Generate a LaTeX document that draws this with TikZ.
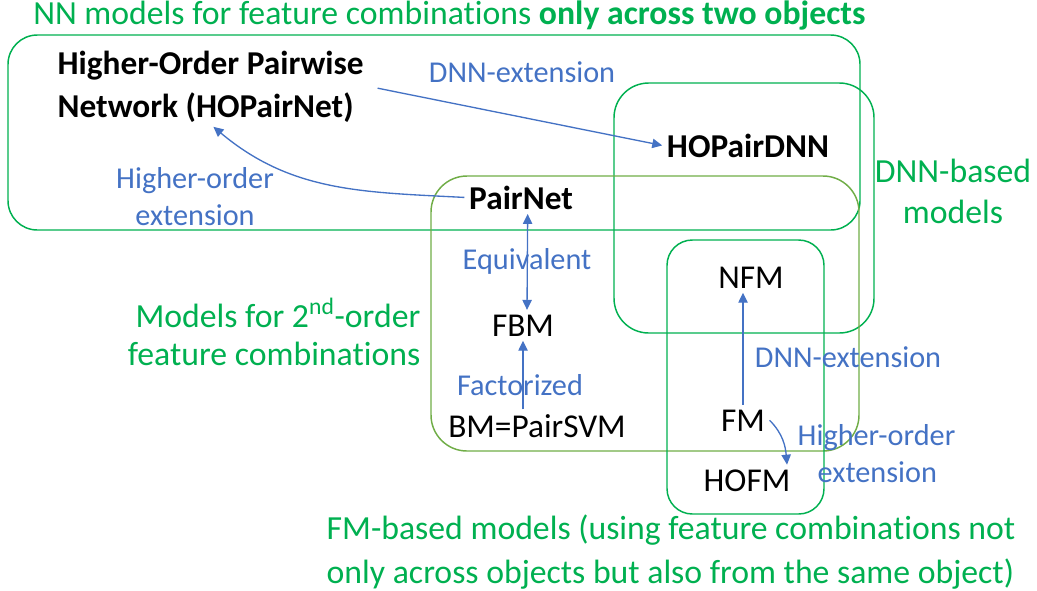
\documentclass[tikz,border=0pt]{standalone}
\usepackage{fontspec}
\setmainfont{Carlito}[Ligatures=NoCommon]
\usetikzlibrary{arrows.meta}
\definecolor{nngreen}{HTML}{00B050}
\definecolor{pairgreen}{HTML}{70AD47}
\definecolor{extblue}{HTML}{4472C4}

\tikzstyle{grp}=[rectangle,draw=nngreen,line width=1.1pt,inner sep=0pt]
\tikzstyle{mdl}=[font=\fontsize{25}{32.25}\selectfont,text=black]
\tikzstyle{bmdl}=[font=\fontsize{25}{32.25}\selectfont\bfseries,text=black]
\tikzstyle{lbl}=[font=\fontsize{22.7}{27.75}\selectfont,text=extblue]
\tikzstyle{grpnote}=[font=\fontsize{25.3}{30.75}\selectfont,text=nngreen]
\tikzstyle{ext}=[draw=extblue,line width=1pt,-{Triangle[length=7.5pt,width=7pt]}]

\begin{document}
\begin{tikzpicture}[x=0.75pt,y=0.75pt]
\useasboundingbox (0,0) rectangle (1037,-590);
\node[grp,rounded corners=22pt,minimum width=639pt,minimum height=146.25pt] (nnbox) at (434,-132.5) {};
\node[grp,rounded corners=26pt,minimum width=195pt,minimum height=187.5pt] (dnnbox) at (744,-208) {};
\node[grp,draw=pairgreen,rounded corners=27pt,minimum width=321pt,minimum height=206.25pt] (pairbox) at (645,-313.5) {};
\node[grp,rounded corners=19pt,minimum width=117.75pt,minimum height=205.5pt] (fmbox) at (745.5,-377) {};

\node[grpnote,inner sep=0pt,anchor=base west] (nntitle) at (33,-24) {NN models for feature combinations \textbf{only across two objects}};
\node[bmdl,align=left,anchor=base west] (hopairnet) at (53,-117) {Higher-Order Pairwise\\Network (HOPairNet)};
\node[bmdl,anchor=base] (hopairdnn) at (748,-157) {HOPairDNN};
\node[bmdl,anchor=base] (pairnet) at (521,-209) {PairNet};
\node[mdl,anchor=base] (nfm) at (751,-288) {NFM};
\node[mdl,anchor=base] (fbm) at (523,-336) {FBM};
\node[mdl,anchor=base] (bm) at (537,-437) {BM=PairSVM};
\node[mdl,anchor=base] (fm) at (743,-431) {FM};
\node[mdl,anchor=base] (hofm) at (747,-491) {HOFM};

\node[lbl,anchor=base] (dnnlbl) at (522,-82) {DNN-extension};
\node[lbl,align=center,anchor=base] (holbl) at (195,-225) {Higher-order\\extension};
\node[lbl,anchor=base] (eqlbl) at (527,-269) {Equivalent};
\node[lbl,anchor=base] (faclbl) at (520,-395) {Factorized};
\node[lbl,anchor=base] (fmdnnlbl) at (848,-367) {DNN-extension};
\node[lbl,align=left,anchor=base west] (fmholbl) at (793,-482) {Higher-order\\\hspace*{15pt}extension};

\node[grpnote,align=center,anchor=base] (dnnnote) at (953,-223) {DNN-based\\models};
\node[grpnote,font=\fontsize{25.3}{28.5}\selectfont,align=right,anchor=base east] (pairnote) at (425,-365) {Models for 2\textsuperscript{nd}-order\\feature combinations};
\node[grpnote,font=\fontsize{25.3}{33}\selectfont,align=left,anchor=base west] (fmnote) at (322,-583) {FM-based models (using feature combinations not\\only across objects but also from the same object)};

\draw[ext,shorten <=7pt] (hopairnet.east) -- (hopairdnn.west);
\draw[ext] (pairnet.west) to[out=177,in=-40] ([xshift=2pt]hopairnet.south);
\draw[ext,{Triangle[length=7.5pt,width=7pt]}-{Triangle[length=7.5pt,width=7pt]}] ([xshift=5pt]pairnet.south) -- ([xshift=3pt]fbm.north);
\draw[ext] (bm.north -| fbm) -- (fbm.south);
\draw[ext] (fm.north) -- (fm.north |- nfm.south);
\draw[ext] (fm.east) to[out=-45,in=95] ([xshift=-6pt]hofm.north east);
\end{tikzpicture}
\end{document}
